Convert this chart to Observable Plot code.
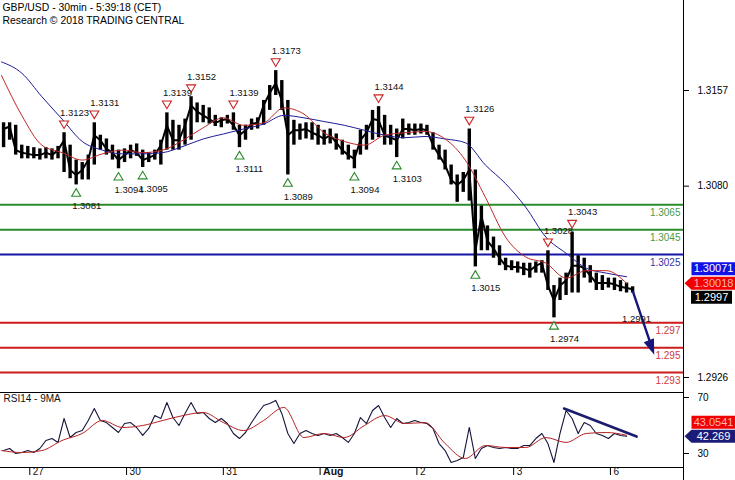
<!DOCTYPE html>
<html><head><meta charset="utf-8">
<script src="https://cdn.jsdelivr.net/npm/d3@7"></script>
<script src="https://cdn.jsdelivr.net/npm/@observablehq/plot@0.6"></script>
<style>
body{margin:0;background:#fff;}
#chart{width:735px;height:480px;position:relative;overflow:hidden;background:#fff;}
#chart svg{display:block;}
</style></head><body><div id="chart"></div>
<script>
// ---------- text ----------
const title = "GBP/USD - 30min - 5:39:18 (CET)";
const subtitle = "Research © 2018 TRADING CENTRAL";
const rsiTitle = "RSI14 - 9MA";

// ---------- time axis (30-min bar index; weekend skipped) ----------
const dayStarts = [0, 48, 96, 144, 192, 240, 288];
const dayLabels = ["27", "30", "31", "Aug", "2", "3", "6"];
const firstBar = -13, barStep = 3;          // price / RSI samples
const maFirstBar = -14, maStep = 10;        // moving-average samples

// ---------- price (sampled every 3 bars) ----------
const high = [
1.3131,1.3131,1.3129,1.3113,1.3112,1.3111,1.3110,1.3111,1.3110,1.3112,
1.3123,1.3113,1.3101,1.3099,1.3105,1.3131,1.3121,1.3118,1.3113,1.3109,
1.3110,1.3113,1.3114,1.3109,1.3107,1.3109,1.3117,1.3139,1.3133,1.3129,
1.3134,1.3152,1.3147,1.3145,1.3143,1.3137,1.3135,1.3137,1.3139,1.3129,
1.3129,1.3134,1.3135,1.3149,1.3161,1.3173,1.3165,1.3149,1.3133,1.3130,
1.3131,1.3131,1.3129,1.3125,1.3126,1.3122,1.3117,1.3113,1.3109,1.3125,
1.3129,1.3141,1.3144,1.3137,1.3129,1.3126,1.3134,1.3130,1.3130,1.3130,
1.3129,1.3123,1.3113,1.3109,1.3097,1.3089,1.3091,1.3126,1.3093,1.3064,
1.3048,1.3039,1.3032,1.3022,1.3020,1.3019,1.3018,1.3018,1.3019,1.3020,
1.3028,1.3000,1.3006,1.3010,1.3043,1.3024,1.3022,1.3016,1.3010,1.3008,
1.3006,1.3006,1.3004,1.3002,1.2999];
const low = [
1.3111,1.3117,1.3105,1.3102,1.3102,1.3102,1.3101,1.3102,1.3101,1.3102,
1.3091,1.3086,1.3081,1.3085,1.3085,1.3097,1.3109,1.3105,1.3101,1.3094,
1.3099,1.3102,1.3104,1.3095,1.3099,1.3101,1.3097,1.3109,1.3109,1.3109,
1.3113,1.3117,1.3131,1.3131,1.3130,1.3128,1.3127,1.3130,1.3125,1.3111,
1.3117,1.3125,1.3126,1.3129,1.3141,1.3153,1.3141,1.3089,1.3113,1.3117,
1.3118,1.3117,1.3113,1.3113,1.3114,1.3109,1.3105,1.3101,1.3094,1.3105,
1.3109,1.3117,1.3119,1.3113,1.3113,1.3103,1.3118,1.3121,1.3121,1.3122,
1.3121,1.3109,1.3101,1.3093,1.3081,1.3067,1.3075,1.3068,1.3015,1.3028,
1.3028,1.3022,1.3016,1.3012,1.3012,1.3010,1.3008,1.3006,1.3010,1.3010,
1.2996,1.2974,1.2988,1.2992,1.2994,1.2994,1.3006,1.3002,1.2996,1.2996,
1.2998,1.2996,1.2995,1.2994,1.2994];
const close = [
1.3126,1.3128,1.3109,1.3107,1.3106,1.3105,1.3105,1.3107,1.3105,1.3109,
1.3117,1.3093,1.3089,1.3093,1.3101,1.3121,1.3117,1.3110,1.3107,1.3101,
1.3105,1.3109,1.3107,1.3101,1.3103,1.3105,1.3113,1.3129,1.3117,1.3117,
1.3129,1.3145,1.3140,1.3137,1.3134,1.3131,1.3133,1.3134,1.3129,1.3121,
1.3125,1.3130,1.3131,1.3145,1.3155,1.3163,1.3149,1.3121,1.3125,1.3125,
1.3126,1.3123,1.3121,1.3118,1.3121,1.3115,1.3109,1.3105,1.3102,1.3117,
1.3123,1.3134,1.3133,1.3121,1.3119,1.3117,1.3126,1.3126,1.3125,1.3126,
1.3125,1.3113,1.3105,1.3097,1.3085,1.3081,1.3085,1.3093,1.3028,1.3056,
1.3036,1.3030,1.3022,1.3016,1.3015,1.3015,1.3014,1.3012,1.3016,1.3018,
1.3000,1.2988,1.3000,1.3004,1.3016,1.3016,1.3014,1.3008,1.3002,1.3002,
1.3002,1.3001,1.2999,1.2998,1.2997];

// swing points (sample index)
const swingHighIdx = [10, 15, 27, 31, 38, 45, 62, 77, 90, 94];
const swingLowIdx  = [12, 19, 23, 39, 47, 58, 65, 78, 91];

// moving averages (sampled every 10 bars)
const maRed = [1.3169,1.3137,1.3113,1.3107,1.3101,1.3106,1.3109,1.3107,1.3109,1.3117,
1.3127,1.3135,1.3129,1.3131,1.3143,1.3138,1.3123,1.3116,1.3113,1.3121,
1.3123,1.3124,1.3118,1.3101,1.3071,1.3039,1.3023,1.3018,1.3006,1.3012,1.3012,1.30018];
const maBlue = [1.3180,1.3171,1.3152,1.3134,1.3116,1.3109,1.3106,1.3106,1.3107,1.3112,
1.3118,1.3122,1.3126,1.3130,1.3137,1.3135,1.3132,1.3129,1.3125,1.3121,
1.3119,1.3120,1.3118,1.3115,1.3097,1.3082,1.3063,1.3039,1.3026,1.3014,1.3010,1.30071];

// key levels
const resistances = [1.3065, 1.3045];
const pivot = [1.3025];
const supports = [1.297, 1.295, 1.293];
const priceTicks = [1.3157, 1.3080, 1.2926];

// forecast arrow and its label
const forecast = [{b1: 299, p1: 1.2996, b2: 309, p2: 1.2948}];
const targetLabel = [{b: 301, p: 1.2991, text: "1.2991"}];

// ---------- RSI ----------
const rsi = [
32.1,33.6,30.0,30.7,32.1,30.7,33.6,39.3,40.7,37.9,
55.0,41.4,45.0,46.4,53.6,62.1,53.6,52.1,48.6,45.0,
51.4,52.1,48.6,42.9,47.9,57.1,55.0,66.4,55.7,50.0,
58.6,66.4,58.6,59.3,55.0,52.1,55.0,51.4,44.3,40.7,
45.0,52.1,58.6,64.3,65.7,67.9,58.6,44.3,37.1,44.3,
46.4,44.3,42.9,44.3,42.9,44.3,41.4,37.9,44.3,55.7,
51.4,60.7,64.3,55.7,48.6,55.0,51.4,52.1,53.6,52.1,
51.4,47.9,37.1,32.1,23.6,25.0,27.1,48.6,26.4,33.6,
35.7,34.3,33.6,34.3,33.6,33.6,35.7,35.7,40.7,44.3,
37.1,23.6,44.3,60.7,55.0,44.3,52.1,50.0,44.3,42.9,
40.7,44.3,42.9,42.269];
const rsiMa = [32.1,30.7,32.1,39.3,44.3,53.6,48.6,50.0,53.6,57.1,59.3,52.1,46.4,53.6,62.9,41.4,
44.3,41.4,50.0,57.1,51.4,52.1,37.1,26.4,35.7,34.3,34.3,41.4,37.9,44.3,45.0,43.0541];
const rsiTrend = [{b: 265, v: 62.1}, {b: 301, v: 42.1}];
const rsiTicks = [70, 30];

// ---------- derived tables ----------
const bars = high.map((h, i) => ({b: firstBar + i * barStep, high: h, low: low[i], close: close[i]}));
const ma = maRed.map((r, i) => ({b: maFirstBar + i * maStep, red: r, blue: maBlue[i]}));
const rsiRows = rsi.map((v, i) => ({b: firstBar + i * barStep, v}));
const rsiMaRows = rsiMa.map((v, i) => ({b: maFirstBar + i * maStep, v}));
const swingHighs = swingHighIdx.map(i => ({b: bars[i].b, p: high[i], text: high[i].toFixed(4)}));
const swingLows = swingLowIdx.map(i => ({b: bars[i].b, p: low[i], text: low[i].toFixed(4)}));
const days = dayStarts.map((b, i) => ({b, label: dayLabels[i]}));

const xDomain = [-14.53, 324.25];
const priceDomain = [1.291473, 1.322944];
const rsiDomain = [20, 73.571];
const FONT = "'Liberation Sans', Arial, sans-serif";

// custom symbols
const triDown = {draw(c) {c.moveTo(-4.5, -3.8); c.lineTo(4.5, -3.8); c.lineTo(0, 3.8); c.closePath();}};
const triUp = {draw(c) {c.moveTo(-4.5, 3.8); c.lineTo(4.5, 3.8); c.lineTo(0, -3.8); c.closePath();}};
// filled arrow head pointing along the forecast direction (tip at origin)
const arrowHead = {draw(c) {c.moveTo(1.5, 4.5); c.lineTo(1.2, -12); c.lineTo(-9, -8); c.closePath();}};
const tagShape = (w, h, arrow) => ({draw(c) {
  const hw = w / 2, hh = h / 2;
  if (arrow) {c.moveTo(-hw - arrow, 0); c.lineTo(-hw, -hh);} else c.moveTo(-hw, -hh);
  c.lineTo(hw, -hh); c.lineTo(hw, hh); c.lineTo(-hw, hh); c.closePath();
}});
function tagMarks(tags) {
  return tags.flatMap(t => [
    Plot.dot([t], {y: "v", frameAnchor: "right", dx: t.dx, dy: t.dy, symbol: tagShape(t.w, 13, t.arrow), r: 5, fill: t.fill, stroke: "none"}),
    Plot.text([t], {y: "v", text: "text", frameAnchor: "right", dx: t.dx, dy: t.dy, fill: t.color, fontSize: 11, textAnchor: "middle"})
  ]);
}

const lastBlue = maBlue[maBlue.length - 1], lastRed = maRed[maRed.length - 1], lastClose = close[close.length - 1];
const priceTags = [
  {v: lastBlue, text: lastBlue.toFixed(5), fill: "#1212e6", color: "white", dx: 30, dy: -8, w: 44, arrow: 0},
  {v: lastRed, text: lastRed.toFixed(5), fill: "#f20000", color: "#ffb4b4", dx: 30, dy: 0, w: 44, arrow: 7},
  {v: lastClose, text: lastClose.toFixed(4), fill: "black", color: "white", dx: 28, dy: 8, w: 41, arrow: 0}
];
const lastRsi = rsi[rsi.length - 1], lastRsiMa = rsiMa[rsiMa.length - 1];
const rsiTags = [
  {v: lastRsiMa, text: String(lastRsiMa), fill: "#f20000", color: "#ffb4b4", dx: 30, dy: -13, w: 44, arrow: 0},
  {v: lastRsi, text: String(lastRsi), fill: "#1c1c78", color: "white", dx: 30, dy: 0, w: 44, arrow: 7}
];

const main = Plot.plot({
  width: 735, height: 391,
  marginLeft: 0, marginRight: 52, marginTop: 0, marginBottom: 0,
  style: {fontFamily: FONT, fontSize: "10px", background: "white", color: "black"},
  x: {domain: xDomain, axis: null},
  y: {domain: priceDomain},
  marks: [
    Plot.ruleY(resistances, {stroke: "#2b8a2b", strokeWidth: 2}),
    Plot.ruleY(pivot, {stroke: "#1414a8", strokeWidth: 2}),
    Plot.ruleY(supports, {stroke: "#cc1c1c", strokeWidth: 2}),
    Plot.text(resistances, {y: d => d, text: d => String(d), frameAnchor: "right", textAnchor: "end", dx: -3, dy: 8, fill: "#4a9a4a", fontSize: 10}),
    Plot.text(pivot, {y: d => d, text: d => String(d), frameAnchor: "right", textAnchor: "end", dx: -3, dy: 8, fill: "#3333aa", fontSize: 10}),
    Plot.text(supports, {y: d => d, text: d => String(d), frameAnchor: "right", textAnchor: "end", dx: -3, dy: 8, fill: "#d03a3a", fontSize: 10}),
    Plot.ruleX(bars, {x: "b", y1: "low", y2: "high", stroke: "black", strokeWidth: 3.4}),
    Plot.line(bars, {x: "b", y: "close", stroke: "black", strokeWidth: 2}),
    Plot.line(ma, {x: "b", y: "blue", stroke: "#1c1c96", strokeWidth: 1, curve: "monotone-x"}),
    Plot.line(ma, {x: "b", y: "red", stroke: "#c0282a", strokeWidth: 1, curve: "monotone-x"}),
    Plot.dot(swingHighs, {x: "b", y: "p", dy: -8, symbol: triDown, r: 5, fill: "white", stroke: "#cc2222", strokeWidth: 1.1}),
    Plot.dot(swingLows, {x: "b", y: "p", dy: 7.5, symbol: triUp, r: 5, fill: "white", stroke: "#2a8a2a", strokeWidth: 1.1}),
    Plot.text(swingHighs, {x: "b", y: "p", text: "text", dy: -20, dx: -4, textAnchor: "start", fontSize: 9.5, fill: "#111"}),
    Plot.text(swingLows, {x: "b", y: "p", text: "text", dy: 21.5, dx: -4, textAnchor: "start", fontSize: 9.5, fill: "#111"}),
    Plot.link(forecast, {x1: "b1", y1: "p1", x2: "b2", y2: "p2", stroke: "#16167a", strokeWidth: 2.4}),
    Plot.dot(forecast, {x: "b2", y: "p2", symbol: arrowHead, r: 5, fill: "#16167a", stroke: "none"}),
    Plot.text(targetLabel, {x: "b", y: "p", text: "text", dy: 22, fontSize: 9.5, fill: "#111"}),
    Plot.ruleX([xDomain[1]], {stroke: "black", strokeWidth: 1}),
    Plot.axisY({anchor: "right", ticks: priceTicks, tickFormat: d3.format(".4f"), tickSize: 5, tickPadding: 9, fontSize: 10, label: null}),
    ...tagMarks(priceTags),
    Plot.text([title + "\n" + subtitle], {text: d => d, frameAnchor: "top-left", dx: 2, dy: 1, lineAnchor: "top", textAnchor: "start", fontSize: 10.4, lineHeight: 1.27, fill: "black"})
  ]
});

const rsiPlot = Plot.plot({
  width: 735, height: 89,
  marginLeft: 0, marginRight: 52, marginTop: 1, marginBottom: 13,
  style: {fontFamily: FONT, fontSize: "10px", background: "white", color: "black"},
  x: {domain: xDomain},
  y: {domain: rsiDomain},
  marks: [
    Plot.ruleY([rsiDomain[1]], {stroke: "black", strokeWidth: 1}),
    Plot.ruleY([rsiDomain[0]], {stroke: "black", strokeWidth: 1}),
    Plot.ruleX([xDomain[1]], {stroke: "black", strokeWidth: 1, insetTop: -1, insetBottom: -13}),
    Plot.line(rsiRows, {x: "b", y: "v", stroke: "#15153c", strokeWidth: 1.1}),
    Plot.line(rsiMaRows, {x: "b", y: "v", stroke: "#b52222", strokeWidth: 1, curve: "monotone-x"}),
    Plot.line(rsiTrend, {x: "b", y: "v", stroke: "#1c1c6e", strokeWidth: 2.6}),
    Plot.text([rsiTitle], {text: d => d, frameAnchor: "top-left", dx: 3, dy: 2, lineAnchor: "top", fontSize: 10, fill: "#111"}),
    Plot.axisY({anchor: "right", ticks: rsiTicks, tickSize: 5, tickPadding: 9, fontSize: 10, label: null}),
    Plot.axisX({ticks: dayStarts, tickSize: 8, tickFormat: () => "", label: null}),
    Plot.text(days.filter(d => d.label !== "Aug"), {x: "b", text: "label", frameAnchor: "bottom", dy: 7, dx: 3, textAnchor: "start", fontSize: 10, fill: "#111"}),
    Plot.text(days.filter(d => d.label === "Aug"), {x: "b", text: "label", frameAnchor: "bottom", dy: 7, dx: 3, textAnchor: "start", fontSize: 10.5, fontWeight: "bold", fill: "#111"}),
    ...tagMarks(rsiTags)
  ]
});

const root = document.getElementById("chart");
root.appendChild(main);
root.appendChild(rsiPlot);
</script></body></html>
